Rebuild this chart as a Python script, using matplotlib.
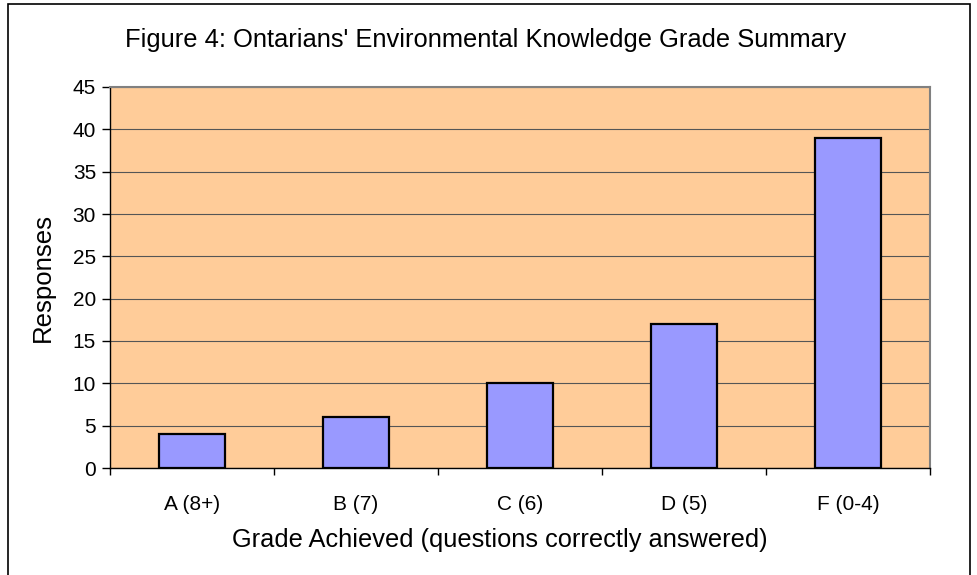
import matplotlib.pyplot as plt
import numpy as np
from matplotlib.patches import Rectangle

# Datos
grados = ["A (8+)", "B (7)", "C (6)", "D (5)", "F (0-4)"]
respuestas = [4, 6, 10, 17, 39]
yticks = list(range(0, 50, 5))

plt.rcParams["font.family"] = ["Liberation Sans", "DejaVu Sans"]

W, H = 978, 575
fig = plt.figure(figsize=(W / 100, H / 100), dpi=100)
fig.patch.set_facecolor("white")
# borde de la figura
fig.patches.append(Rectangle((8 / W, -0.01), 962 / W, 1 - 4 / H + 0.01,
                             transform=fig.transFigure, fill=False,
                             edgecolor="black", linewidth=1.2))

ax = fig.add_axes([110 / W, 1 - 468 / H, 820 / W, 381 / H])
ax.set_facecolor("#FFCC99")

x = np.arange(len(grados))
ax.bar(x, respuestas, width=0.4, color="#9999FF", edgecolor="black",
       linewidth=1.6, zorder=3)

ax.set_xlim(-0.5, len(grados) - 0.5)
ax.set_ylim(0, 45)
ax.set_yticks(yticks)
ax.yaxis.grid(True, color="#555555", linewidth=0.8, zorder=1)
ax.set_axisbelow(True)

ax.set_xticks(x)
ax.set_xticklabels(grados, fontsize=15)
ax.tick_params(axis="x", length=0, pad=26)
ax.set_xticks(np.arange(len(grados) + 1) - 0.5, minor=True)
ax.tick_params(axis="x", which="minor", length=5, width=1, direction="out")
ax.tick_params(axis="y", labelsize=15, length=6, width=1, direction="out", pad=4)
for lbl in ax.get_xticklabels():
    lbl.set_verticalalignment("center")

for s in ["left", "bottom"]:
    ax.spines[s].set_color("black")
    ax.spines[s].set_linewidth(1)
for s in ["top", "right"]:
    ax.spines[s].set_color("#808080")
    ax.spines[s].set_linewidth(1.5)

# Etiquetas y título
fig.text(500 / W, 1 - 540 / H, "Grade Achieved (questions correctly answered)",
         ha="center", va="center", fontsize=18.3)
fig.text(43 / W, 1 - 277 / H, "Responses", rotation=90,
         ha="center", va="center", fontsize=18.5)
fig.text(486 / W, 1 - 40 / H, "Figure 4: Ontarians' Environmental Knowledge Grade Summary",
         ha="center", va="center", fontsize=18.4)

fig.savefig("out.png", dpi=100)
